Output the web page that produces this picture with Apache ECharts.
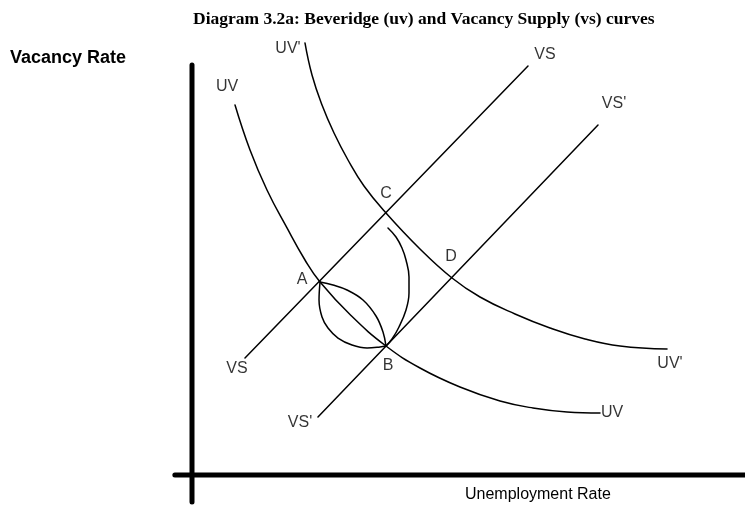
<!DOCTYPE html>
<html>
<head>
<meta charset="utf-8">
<script src="https://cdn.jsdelivr.net/npm/echarts@6/dist/echarts.min.js"></script>
<style>
  html, body { margin: 0; padding: 0; background: #fff; }
  #chart { width: 745px; height: 506px; }
</style>
</head>
<body>
<div id="chart"></div>
<script>
// axes are drawn as thick lines that cross a little past the origin
const axisX = [[-3.1, 0], [100, 0]];
const axisY = [[0, -6.6], [0, 100]];

// beveridge curves
const uv = [[7.78, 90.24], [10.49, 79.27], [13.56, 69.51], [17.18, 60.25], [20.43, 52.44],
  [23.15, 47.07], [28.75, 38.9], [35.08, 31.46], [41.23, 26.1], [48.46, 21.46],
  [55.7, 18.05], [61.66, 16.34], [67.81, 15.37], [73.78, 15.12]];
const uvShift = [[20.43, 105.37], [21.7, 97.56], [23.51, 90.24], [25.68, 83.41], [28.21, 76.83],
  [31.1, 70.49], [35.08, 63.9], [41.05, 55.37], [47.02, 48.05], [52.08, 43.41],
  [58.41, 39.27], [64.74, 35.85], [71.07, 33.17], [77.4, 31.46], [85.9, 30.73]];

// vacancy supply lines
const vs = [[9.58, 28.54], [60.76, 99.76]];
const vsShift = [[22.78, 14.15], [73.42, 85.37]];

// adjustment paths between A and B
const pathUpper = [[23.15, 47.07], [25.5, 46.34], [28.03, 45.12], [30.92, 42.68],
  [33.27, 38.78], [34.54, 34.88], [35.08, 31.46]];
const pathLower = [[23.15, 47.07], [22.97, 42.68], [23.51, 38.54], [24.59, 35.85],
  [26.4, 33.41], [28.93, 31.71], [31.65, 30.98], [34.0, 31.22], [35.08, 31.46]];
const pathBig = [[35.44, 60.24], [36.89, 58.05], [37.97, 55.37], [38.7, 52.44],
  [39.24, 48.29], [39.24, 44.39], [38.7, 40.24], [37.43, 36.1], [36.17, 33.17], [35.08, 31.46]];

// curve labels
const labelText = ["UV'", 'UV', 'VS', "VS'", 'VS', "VS'", 'UV', "UV'", 'A', 'B', 'C', 'D'];
const labelAt = [[17.36, 103.9], [6.33, 94.63], [63.83, 102.44], [76.31, 90.49],
  [8.14, 25.85], [19.53, 12.68], [75.95, 15.12], [86.44, 27.07],
  [19.89, 47.56], [35.44, 26.6], [35.08, 68.54], [46.84, 53.17]];

const chart = echarts.init(document.getElementById('chart'));

function curve(data, w, smooth) {
  return {
    type: 'line',
    data: data,
    smooth: smooth,
    symbol: 'none',
    clip: false,
    silent: true,
    lineStyle: { color: '#000', width: w, cap: 'round' }
  };
}

const option = {
  backgroundColor: '#fff',
  animation: false,
  title: {
    text: 'Diagram 3.2a: Beveridge (uv) and Vacancy Supply (vs) curves',
    left: 188,
    top: 5,
    textStyle: { fontFamily: 'Liberation Serif', fontWeight: 'bold', fontSize: 17.5, color: '#000' }
  },
  // plot area widened so the axis stubs left of / below the origin sit inside it
  grid: { left: 164.35, right: 0, top: 65, bottom: 0 },
  xAxis: { type: 'value', min: -5, max: 100, show: false },
  yAxis: { type: 'value', min: -7.56, max: 100, show: false },
  graphic: [
    {
      type: 'text', left: 10, top: 49,
      style: { text: 'Vacancy Rate', font: 'bold 18px "Liberation Sans"', fill: '#000' }
    },
    {
      type: 'text', left: 465, top: 487,
      style: { text: 'Unemployment Rate', font: '16px "Liberation Sans"', fill: '#000' }
    }
  ],
  series: [
    curve(axisX, 5, false),
    curve(axisY, 5, false),
    curve(uv, 1.5, 0.45),
    curve(uvShift, 1.5, 0.45),
    curve(vs, 1.5, false),
    curve(vsShift, 1.5, false),
    curve(pathUpper, 1.5, 0.4),
    curve(pathLower, 1.5, 0.4),
    curve(pathBig, 1.5, 0.4),
    {
      type: 'scatter',
      symbolSize: 0,
      clip: false,
      silent: true,
      data: labelAt.map((p, i) => ({ value: p, name: labelText[i] })),
      label: {
        show: true,
        position: 'inside',
        formatter: '{b}',
        color: '#000',
        fontFamily: 'Liberation Sans',
        fontSize: 16
      }
    }
  ]
};

chart.setOption(option);
</script>
</body>
</html>
